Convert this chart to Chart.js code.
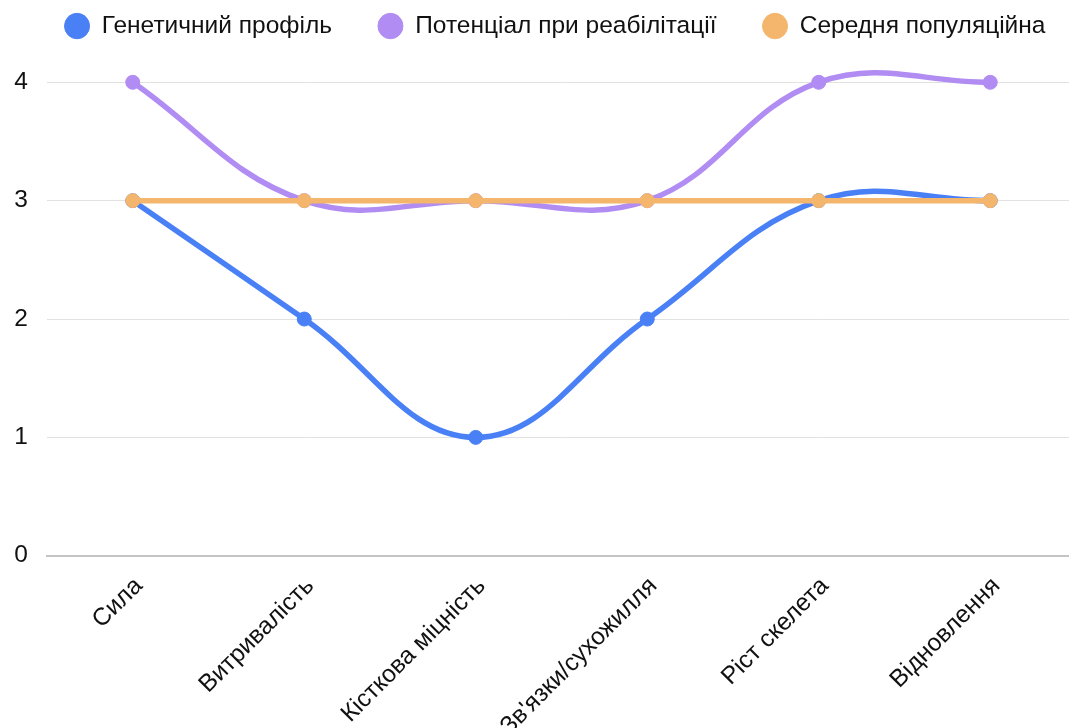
<!DOCTYPE html>
<html lang="uk">
<head>
<meta charset="utf-8">
<script src="https://cdn.jsdelivr.net/npm/chart.js@4/dist/chart.umd.min.js"></script>
<style>
  html, body { margin: 0; padding: 0; background: #ffffff; overflow: hidden; }
  #chart { position: absolute; left: 0; top: 0; }
</style>
</head>
<body>
<canvas id="chart" width="1084" height="757"></canvas>
<script>
// Категорії показників
const categories = ['Сила', 'Витривалість', 'Кісткова міцність', "Зв'язки/сухожилля", 'Ріст скелета', 'Відновлення'];

// Оцінки за шкалою 0–4
const geneticProfile = [3, 2, 1, 2, 3, 3];
const rehabPotential = [4, 3, 3, 3, 4, 4];
const populationAverage = [3, 3, 3, 3, 3, 3];

const yTicks = [0, 1, 2, 3, 4];

const FONT = "'Liberation Sans', Arial, sans-serif";
const FONT_SIZE = 24.5;

function series(label, data, color, order) {
  return {
    label: label,
    data: data,
    order: order,
    borderColor: color,
    backgroundColor: color,
    pointBackgroundColor: color,
    pointBorderColor: color,
    borderWidth: 5.5,
    pointRadius: 7,
    pointBorderWidth: 1,
    tension: 0.4,
    clip: false,
    fill: false
  };
}

// Зсув легенди: трохи правіше та вище від стандартного розташування
const legendPlacement = {
  id: 'legendPlacement',
  afterLayout(chart) {
    const lg = chart.legend;
    if (!lg) return;
    lg.left += 13;
    lg.right += 13;
    lg.top -= 34;
    lg.bottom -= 34;
  }
};

new Chart(document.getElementById('chart'), {
  type: 'line',
  data: {
    labels: categories,
    datasets: [
      series('Генетичний профіль', geneticProfile, '#4a80f5', 2),
      series('Потенціал при реабілітації', rehabPotential, '#b08cf3', 1),
      series('Середня популяційна', populationAverage, '#f4b66d', 0)
    ]
  },
  plugins: [legendPlacement],
  options: {
    responsive: false,
    animation: false,
    devicePixelRatio: 1,
    layout: { padding: { left: 0, right: 0, top: 1.8, bottom: 0 } },
    elements: { line: { capBezierPoints: false } },
    plugins: {
      legend: {
        position: 'top',
        labels: {
          usePointStyle: true,
          pointStyle: 'circle',
          boxHeight: 18,
          pointStyleWidth: 25,
          padding: 46,
          color: '#111111',
          font: { family: FONT, size: FONT_SIZE },
          sort: (a, b) => a.datasetIndex - b.datasetIndex
        }
      },
      tooltip: { enabled: false }
    },
    scales: {
      x: {
        offset: true,
        grid: { display: false, drawTicks: false },
        border: { display: true, color: '#c4c4c4', width: 2 },
        ticks: {
          color: '#111111',
          font: { family: FONT, size: FONT_SIZE },
          maxRotation: 45,
          minRotation: 45,
          labelOffset: 6,
          padding: 16
        }
      },
      y: {
        min: 0,
        max: 4,
        afterBuildTicks: (axis) => { axis.ticks = yTicks.map(v => ({ value: v })); },
        afterFit: (axis) => { axis.width = 47; },
        grid: { color: '#e2e2e2', lineWidth: 1, drawTicks: false },
        border: { display: false },
        ticks: {
          color: '#111111',
          font: { family: FONT, size: FONT_SIZE },
          padding: 19
        }
      }
    }
  }
});
</script>
</body>
</html>
